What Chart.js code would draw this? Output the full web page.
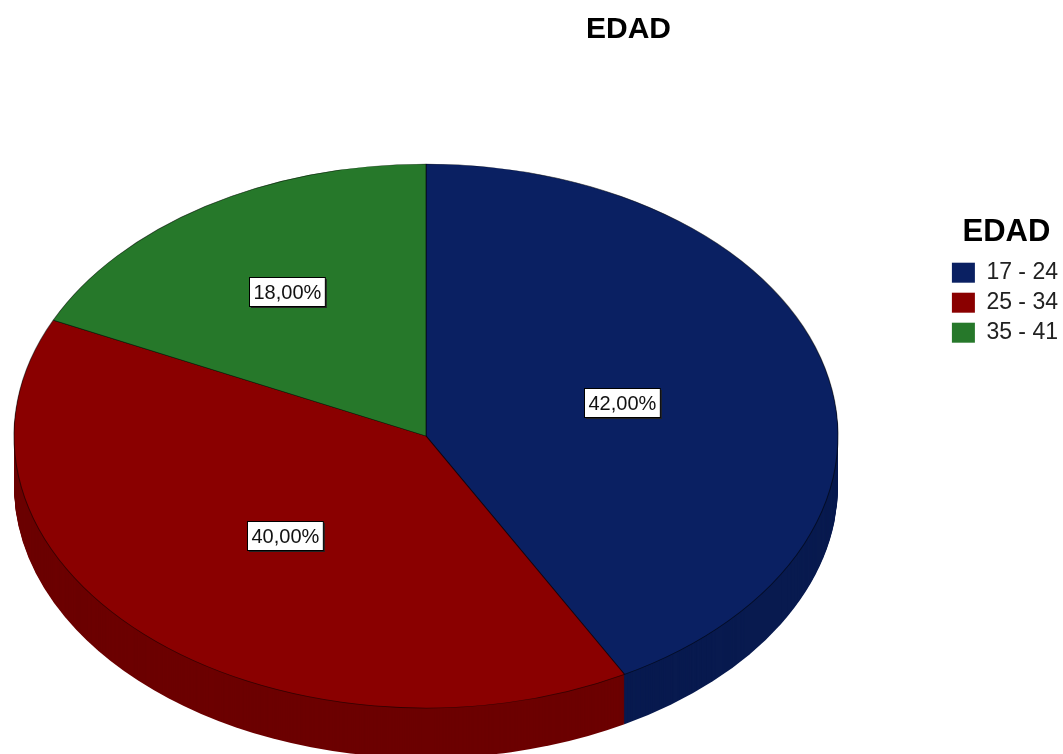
<!DOCTYPE html>
<html>
<head>
<meta charset="utf-8">
<script src="https://cdn.jsdelivr.net/npm/chart.js@4/dist/chart.umd.min.js"></script>
<style>
  html, body { margin: 0; padding: 0; background: #fff; }
  #wrap { width: 1063px; height: 754px; }
</style>
</head>
<body>
<div id="wrap"><canvas id="pie-chart" width="1063" height="754"></canvas></div>
<script>
// data
const categorias = ["17 - 24", "25 - 34", "35 - 41"];
const porcentajes = [42, 40, 18];
const etiquetas = ["42,00%", "40,00%", "18,00%"];

const colores = ["#0a2062", "#8a0000", "#26782a"];
const coloresLado = ["#081a4f", "#6c0000", "#1b5a1e"];

// where the tilted pie sits on the page
const CX = 426, CY = 436, RX = 412, RY = 272, DEPTH = 50;
const labelRadius = [0.49, 0.5, 0.63];

const fontFam = "Arial, 'Liberation Sans', sans-serif";

function pieTransform(ctx, el, dy) {
  const sx = RX / el.outerRadius, sy = RY / el.outerRadius;
  ctx.translate(CX, CY + dy);
  ctx.scale(sx, sy);
  ctx.translate(-el.x, -el.y);
}

const pie3d = {
  id: 'pie3d',
  beforeDatasetsDraw(chart) {
    const ctx = chart.ctx;
    const arcs = chart.getDatasetMeta(0).data;
    if (!arcs.length) return;
    // side of the disc, stacked from the bottom up
    for (let d = DEPTH; d >= 1; d--) {
      ctx.save();
      pieTransform(ctx, arcs[0], d);
      arcs.forEach((a, i) => {
        ctx.beginPath();
        ctx.moveTo(a.x, a.y);
        ctx.arc(a.x, a.y, a.outerRadius, a.startAngle, a.endAngle);
        ctx.closePath();
        ctx.fillStyle = coloresLado[i];
        ctx.fill();
      });
      ctx.restore();
    }
    // top face gets drawn by chart.js inside this transform
    ctx.save();
    pieTransform(ctx, arcs[0], 0);
  },
  afterDatasetsDraw(chart) {
    const ctx = chart.ctx;
    const arcs = chart.getDatasetMeta(0).data;
    if (!arcs.length) return;
    ctx.restore();
    const sx = RX / arcs[0].outerRadius, sy = RY / arcs[0].outerRadius;
    ctx.save();
    ctx.font = "20px " + fontFam;
    ctx.textAlign = 'center';
    ctx.textBaseline = 'middle';
    arcs.forEach((a, i) => {
      const mid = (a.startAngle + a.endAngle) / 2;
      const r = a.outerRadius * labelRadius[i];
      const px = CX + sx * Math.cos(mid) * r;
      const py = CY + sy * Math.sin(mid) * r;
      const w = ctx.measureText(etiquetas[i]).width + 8;
      const h = 29;
      const x0 = Math.round(px - w / 2) + 0.5, y0 = Math.round(py - h / 2) + 0.5;
      ctx.fillStyle = '#222';
      ctx.fillRect(x0 + 1.5, y0 + 1.5, w, h);
      ctx.fillStyle = '#fff';
      ctx.fillRect(x0, y0, w, h);
      ctx.strokeStyle = '#000';
      ctx.lineWidth = 1;
      ctx.strokeRect(x0, y0, w, h);
      ctx.fillStyle = '#111';
      ctx.fillText(etiquetas[i], x0 + w / 2, y0 + h / 2 + 1);
    });
    ctx.restore();
  }
};

new Chart(document.getElementById("pie-chart"), {
  type: 'pie',
  data: {
    labels: categorias,
    datasets: [{
      data: porcentajes,
      backgroundColor: colores,
      borderColor: 'rgba(0,0,0,0.55)',
      borderWidth: 0.7,
      clip: false
    }]
  },
  options: {
    responsive: false,
    animation: false,
    events: [],
    layout: { padding: { left: 189, right: -5, top: 0, bottom: 0 } },
    plugins: {
      title: {
        display: true,
        text: 'EDAD',
        color: '#000',
        font: { family: fontFam, size: 30, weight: 'bold' },
        padding: { top: 12, bottom: 169 }
      },
      legend: {
        display: true,
        position: 'right',
        align: 'start',
        fullSize: false,
        title: {
          display: true,
          text: 'EDAD',
          color: '#000',
          font: { family: fontFam, size: 31, weight: 'bold' },
          padding: { top: 0, bottom: 0 }
        },
        labels: {
          color: '#222',
          boxWidth: 23,
          boxHeight: 20,
          padding: 7,
          font: { family: fontFam, size: 23 },
          generateLabels(chart) {
            const items = Chart.overrides.pie.plugins.legend.labels.generateLabels(chart);
            items.forEach(it => { it.lineWidth = 0; });
            return items;
          }
        }
      },
      tooltip: { enabled: false }
    }
  },
  plugins: [pie3d]
});
</script>
</body>
</html>
